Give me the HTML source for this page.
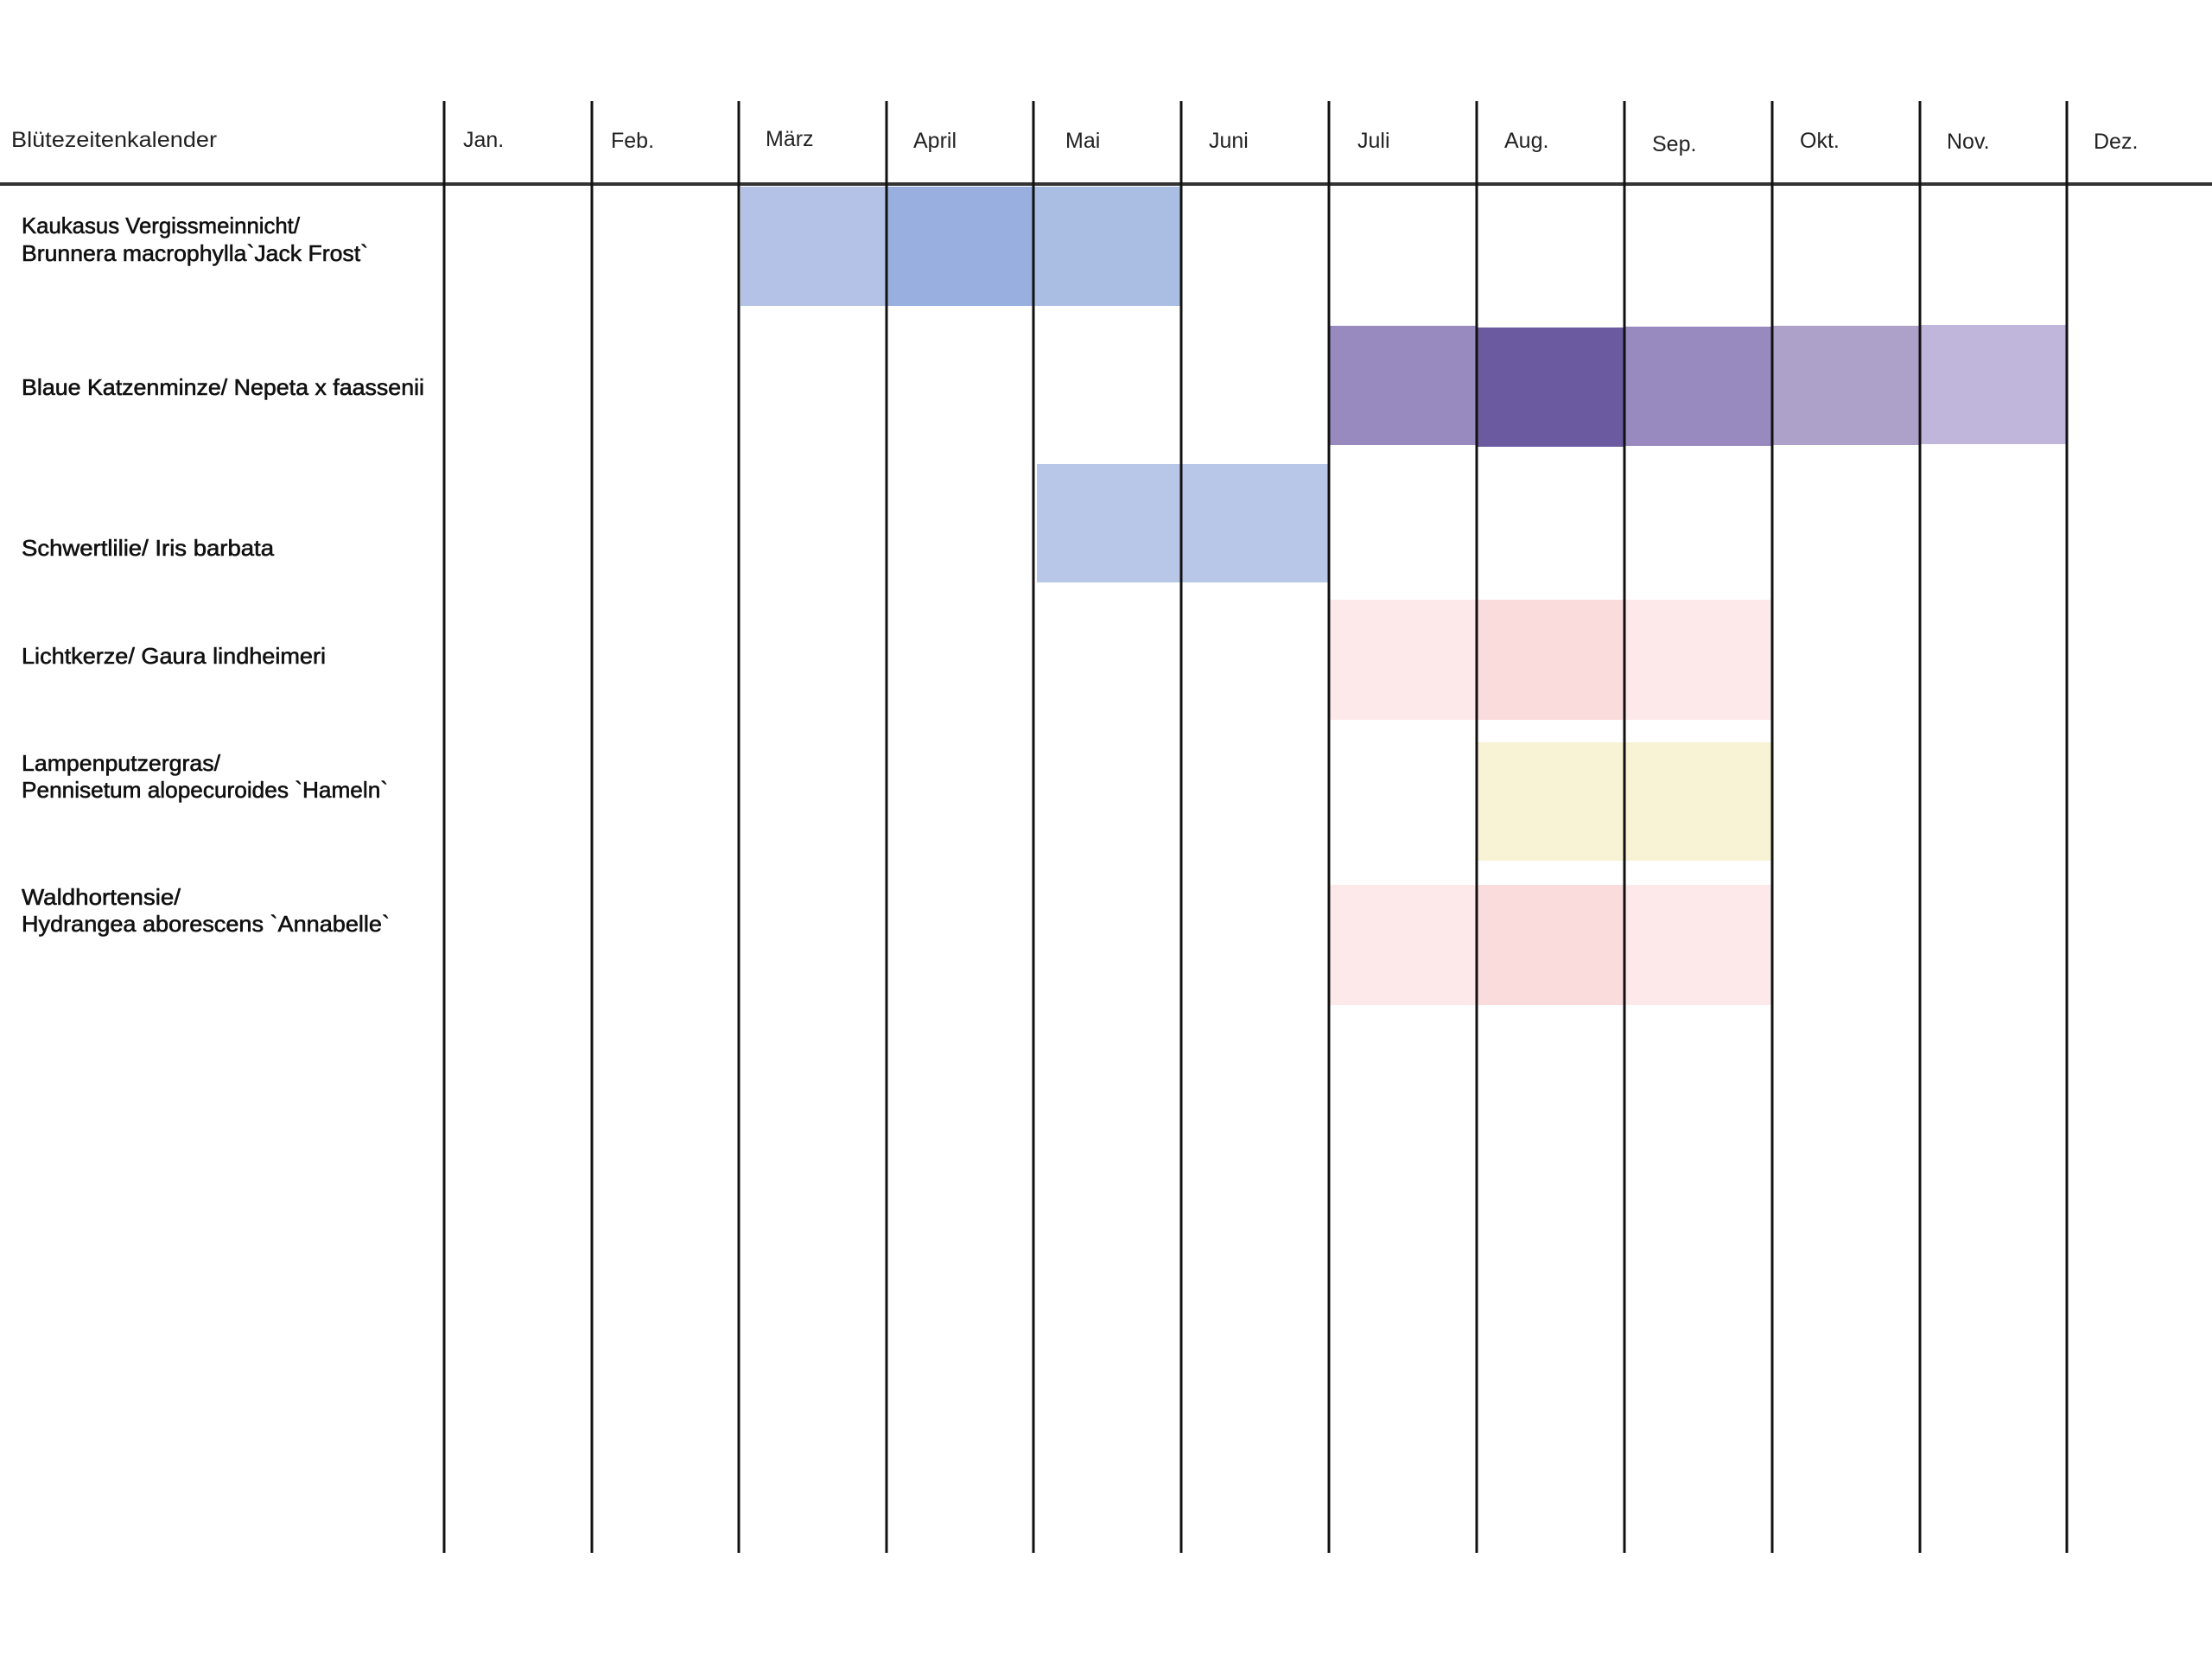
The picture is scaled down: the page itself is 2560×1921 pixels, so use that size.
<!DOCTYPE html>
<html><head><meta charset="utf-8"><style>html,body{margin:0;padding:0;background:#fff}svg{display:block}</style></head>
<body>
<svg width="2560" height="1921" viewBox="0 0 2560 1921" xmlns="http://www.w3.org/2000/svg" font-family="Liberation Sans, sans-serif">
<rect width="2560" height="1921" fill="#fff"/>
<rect x="857" y="216" width="170" height="138" fill="#b3c2e6"/>
<rect x="1027" y="216" width="170" height="138" fill="#98afe0"/>
<rect x="1197" y="216" width="170" height="138" fill="#aabde3"/>

<rect x="1538" y="377" width="171" height="138" fill="#9889bf"/>
<rect x="1709" y="379" width="171" height="138" fill="#6b5aa0"/>
<rect x="1880" y="378" width="171" height="138" fill="#9889bf"/>
<rect x="2051" y="377" width="171" height="138" fill="#ada0c9"/>
<rect x="2222" y="376" width="170" height="138" fill="#c0b5da"/>

<rect x="1200" y="537" width="338" height="137" fill="#b8c6e8"/>

<rect x="1538" y="694" width="171" height="139" fill="#fde8ea"/>
<rect x="1709" y="694" width="171" height="139" fill="#fbdcdd"/>
<rect x="1880" y="694" width="171" height="139" fill="#fde8ea"/>

<rect x="1710" y="859" width="341" height="137" fill="#f7f3d4"/>

<rect x="1538" y="1024" width="171" height="139" fill="#fde8ea"/>
<rect x="1709" y="1024" width="171" height="139" fill="#fbdcdd"/>
<rect x="1880" y="1024" width="171" height="139" fill="#fde8ea"/>

<line x1="0" y1="213" x2="2560" y2="213" stroke="#333" stroke-width="4"/>
<g stroke="#111" stroke-width="3">
<line x1="514" y1="117" x2="514" y2="1797"/>
<line x1="685" y1="117" x2="685" y2="1797"/>
<line x1="855" y1="117" x2="855" y2="1797"/>
<line x1="1026" y1="117" x2="1026" y2="1797"/>
<line x1="1196" y1="117" x2="1196" y2="1797"/>
<line x1="1367" y1="117" x2="1367" y2="1797"/>
<line x1="1538" y1="117" x2="1538" y2="1797"/>
<line x1="1709" y1="117" x2="1709" y2="1797"/>
<line x1="1880" y1="117" x2="1880" y2="1797"/>
<line x1="2051" y1="117" x2="2051" y2="1797"/>
<line x1="2222" y1="117" x2="2222" y2="1797"/>
<line x1="2392" y1="117" x2="2392" y2="1797"/>
</g>
<g font-size="25" fill="#222">
<text x="13" y="170" textLength="238" lengthAdjust="spacingAndGlyphs">Blütezeitenkalender</text>
<text x="536" y="170">Jan.</text>
<text x="707" y="171">Feb.</text>
<text x="886" y="169">März</text>
<text x="1057" y="171">April</text>
<text x="1233" y="171">Mai</text>
<text x="1399" y="171">Juni</text>
<text x="1571" y="171">Juli</text>
<text x="1741" y="171">Aug.</text>
<text x="1912" y="175">Sep.</text>
<text x="2083" y="171">Okt.</text>
<text x="2253" y="172">Nov.</text>
<text x="2423" y="172">Dez.</text>
</g>
<g font-size="26" fill="#111" stroke="#111" stroke-width="0.6">
<text x="25" y="270" textLength="322" lengthAdjust="spacingAndGlyphs">Kaukasus Vergissmeinnicht/</text>
<text x="25" y="302" textLength="401" lengthAdjust="spacingAndGlyphs">Brunnera macrophylla`Jack Frost`</text>
<text x="25" y="457" textLength="466" lengthAdjust="spacingAndGlyphs">Blaue Katzenminze/ Nepeta x faassenii</text>
<text x="25" y="643" textLength="292" lengthAdjust="spacingAndGlyphs">Schwertlilie/ Iris barbata</text>
<text x="25" y="768" textLength="352" lengthAdjust="spacingAndGlyphs">Lichtkerze/ Gaura lindheimeri</text>
<text x="25" y="892" textLength="230" lengthAdjust="spacingAndGlyphs">Lampenputzergras/</text>
<text x="25" y="923" textLength="424" lengthAdjust="spacingAndGlyphs">Pennisetum alopecuroides `Hameln`</text>
<text x="25" y="1047" textLength="184" lengthAdjust="spacingAndGlyphs">Waldhortensie/</text>
<text x="25" y="1078" textLength="426" lengthAdjust="spacingAndGlyphs">Hydrangea aborescens `Annabelle`</text>
</g>
</svg>
</body></html>
